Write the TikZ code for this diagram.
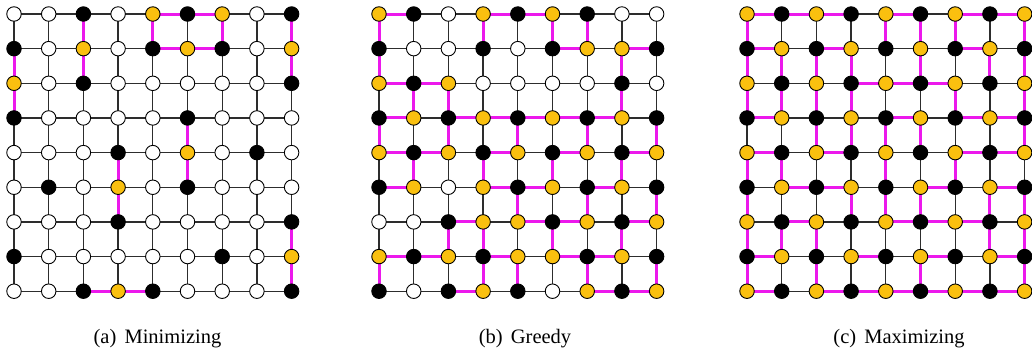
\documentclass[tikz,border=0pt]{standalone}
\usepackage{fontspec}
\setmainfont{Liberation Serif}
\usetikzlibrary{backgrounds}
\definecolor{gold}{RGB}{250,192,15}
\definecolor{mag}{RGB}{236,24,236}
\definecolor{edgegray}{RGB}{45,45,45}
\newcommand\mygrid[5]{%
  \foreach \rowlist [count=\ri from 0] in {#3} {
    \foreach \tp [count=\ci from 0] in \rowlist {
      \node[n\tp] (#1-\ri-\ci) at ({#2+\ci*34.7},{14+\ri*34.65}) {};
    }
  }
  \begin{pgfonlayer}{background}
  \foreach \rowlist [count=\ri from 0] in {#4} {
    \foreach \tp [count=\ci from 0] in \rowlist {
      \pgfmathtruncatemacro\cn{\ci+1}
      \draw[e\tp] (#1-\ri-\ci.center) -- (#1-\ri-\cn.center);
    }
  }
  \foreach \rowlist [count=\ri from 0] in {#5} {
    \foreach \tp [count=\ci from 0] in \rowlist {
      \pgfmathtruncatemacro\rn{\ri+1}
      \draw[e\tp] (#1-\ri-\ci.center) -- (#1-\rn-\ci.center);
    }
  }
  \end{pgfonlayer}
}
\begin{document}
\begin{tikzpicture}[x=1pt,y=-1pt]
\tikzset{
  vtx/.style={circle,draw=black,line width=0.9pt,minimum size=14.5pt,inner sep=0pt},
  nW/.style={vtx,fill=white},
  nB/.style={vtx,fill=black},
  nY/.style={vtx,fill=gold},
  ek/.style={draw=edgegray,line width=1.3pt},
  em/.style={draw=mag,line width=3pt},
  captxt/.style={font=\fontsize{20.5}{24}\selectfont,inner sep=0pt}
}
\useasboundingbox (0,0) rectangle (1032,354);
\begin{pgfonlayer}{background}
\fill[white] (0,0) rectangle (1032,354);
\end{pgfonlayer}
% (a) Minimizing
\mygrid{a}{14}{
 {W,W,B,W,Y,B,Y,W,B},
 {B,W,Y,W,B,Y,B,W,Y},
 {Y,W,B,W,W,W,W,W,B},
 {B,W,W,W,W,B,W,W,W},
 {W,W,W,B,W,Y,W,B,W},
 {W,B,W,Y,W,B,W,W,W},
 {W,W,W,B,W,W,W,W,B},
 {B,W,W,W,W,W,B,W,Y},
 {W,W,B,Y,B,W,W,W,B}}{
 {k,k,k,k,m,m,k,k},
 {k,k,k,k,m,m,k,k},
 {k,k,k,k,k,k,k,k},
 {k,k,k,k,k,k,k,k},
 {k,k,k,k,k,k,k,k},
 {k,k,k,k,k,k,k,k},
 {k,k,k,k,k,k,k,k},
 {k,k,k,k,k,k,k,k},
 {k,k,m,m,k,k,k,k}}{
 {k,k,m,k,m,k,m,k,m},
 {m,k,m,k,k,k,k,k,m},
 {m,k,k,k,k,k,k,k,k},
 {k,k,k,k,k,m,k,k,k},
 {k,k,k,m,k,m,k,k,k},
 {k,k,k,m,k,k,k,k,k},
 {k,k,k,k,k,k,k,k,m},
 {k,k,k,k,k,k,k,k,m}}
% (b) Greedy
\mygrid{b}{379}{
 {Y,B,W,Y,B,Y,B,W,W},
 {B,W,W,B,W,B,Y,Y,B},
 {Y,B,Y,W,W,W,W,B,W},
 {B,Y,B,Y,B,Y,B,Y,B},
 {Y,B,Y,B,Y,B,Y,B,Y},
 {B,Y,W,Y,B,Y,B,Y,B},
 {W,W,B,Y,Y,B,Y,B,Y},
 {Y,B,Y,B,Y,Y,B,Y,B},
 {B,W,B,Y,B,W,Y,B,Y}}{
 {m,k,k,m,m,k,k,k},
 {k,k,k,k,k,m,k,m},
 {m,m,k,k,k,k,k,k},
 {m,k,m,m,m,m,m,k},
 {m,m,k,m,k,m,k,m},
 {m,k,k,m,m,k,m,k},
 {k,k,m,k,m,m,k,m},
 {m,m,k,m,k,m,m,k},
 {k,k,m,k,k,k,m,m}}{
 {m,k,k,m,k,m,m,k,k},
 {m,k,k,k,k,k,k,m,k},
 {k,m,m,k,k,k,k,m,k},
 {m,k,m,k,m,k,m,k,m},
 {k,m,k,m,k,m,k,m,k},
 {k,k,k,k,m,k,m,k,m},
 {k,k,m,m,k,m,k,m,k},
 {m,k,k,m,m,k,m,k,m}}
% (c) Maximizing
\mygrid{c}{747}{
 {Y,B,Y,B,Y,B,Y,B,Y},
 {B,Y,B,Y,B,Y,B,Y,B},
 {Y,B,Y,B,Y,B,Y,B,Y},
 {B,Y,B,Y,B,Y,B,Y,B},
 {Y,B,Y,B,Y,B,Y,B,Y},
 {B,Y,B,Y,B,Y,B,Y,B},
 {Y,B,Y,B,Y,B,Y,B,Y},
 {B,Y,B,Y,B,Y,B,Y,B},
 {Y,B,Y,B,Y,B,Y,B,Y}}{
 {m,m,m,k,m,k,m,m},
 {m,k,m,k,k,k,m,k},
 {k,k,k,m,m,m,k,k},
 {m,k,k,k,m,k,m,m},
 {m,k,m,k,k,k,m,m},
 {k,m,m,k,k,m,k,m},
 {k,m,k,k,m,m,m,k},
 {m,k,k,m,k,m,k,m},
 {m,k,m,m,m,m,m,m}}{
 {m,k,k,k,m,m,m,k,m},
 {m,m,m,m,k,m,k,m,m},
 {m,m,m,m,k,k,m,k,m},
 {k,k,m,m,m,m,k,k,m},
 {m,m,k,k,m,k,m,k,k},
 {m,k,k,m,m,m,k,m,m},
 {m,m,m,k,k,k,k,m,m},
 {m,k,m,k,k,m,k,k,m}}
\node[captxt] (capa) at (157.5,339) {(a)\hspace{0.4em}Minimizing};
\node[captxt] (capb) at (525,339) {(b)\hspace{0.4em}Greedy};
\node[captxt] (capc) at (899,339) {(c)\hspace{0.4em}Maximizing};
\end{tikzpicture}
\end{document}
